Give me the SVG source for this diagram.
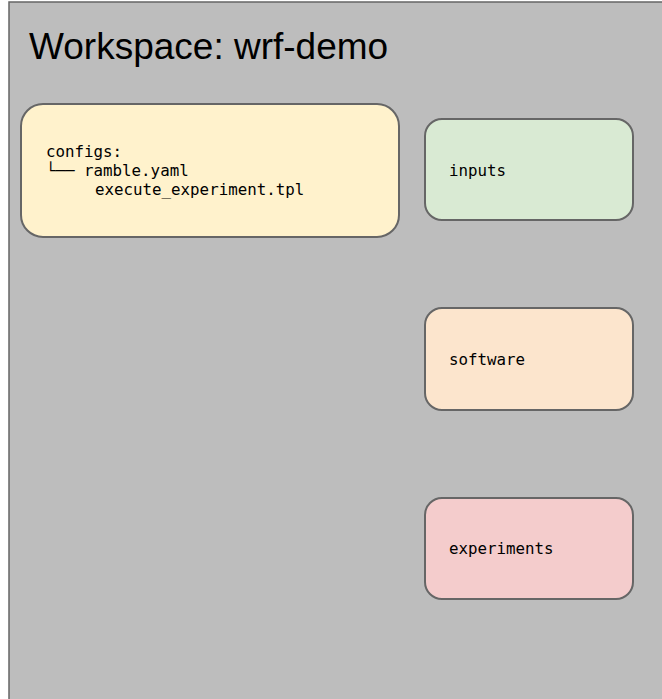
<svg xmlns="http://www.w3.org/2000/svg" width="662" height="699" viewBox="0 0 662 699">
  <style>
    .frame { fill: #bdbdbd; stroke: #666666; stroke-width: 1.5; }
    .box { stroke: #666666; stroke-width: 2; }
    .title { font-family: "Liberation Sans", Arial, sans-serif; font-size: 37px; fill: #000000; }
    .mono { font-family: "DejaVu Sans Mono", "Liberation Mono", monospace; font-size: 15.8px; fill: #000000; }
  </style>
  <!-- workspace frame, runs off the right and bottom edges -->
  <g id="workspace">
    <rect class="frame" x="9" y="2" width="700" height="760"/>
    <text class="title" x="29" y="59">Workspace: wrf-demo</text>
  </g>
  <g id="configs">
    <rect class="box" x="21" y="104" width="378" height="133" rx="22" ry="22" fill="#fff2cc"/>
    <text class="mono" x="46" y="157">configs:</text>
    <text class="mono" x="46" y="176">└── ramble.yaml</text>
    <text class="mono" x="95" y="195">execute_experiment.tpl</text>
  </g>
  <g id="inputs">
    <rect class="box" x="425" y="119" width="208" height="101" rx="17" ry="17" fill="#d9ead3"/>
    <text class="mono" x="449" y="176">inputs</text>
  </g>
  <g id="software">
    <rect class="box" x="425" y="308" width="208" height="102" rx="17" ry="17" fill="#fce5cd"/>
    <text class="mono" x="449" y="365">software</text>
  </g>
  <g id="experiments">
    <rect class="box" x="425" y="498" width="208" height="101" rx="17" ry="17" fill="#f4cccc"/>
    <text class="mono" x="449" y="554">experiments</text>
  </g>
  <g id="connectors"/>
</svg>
